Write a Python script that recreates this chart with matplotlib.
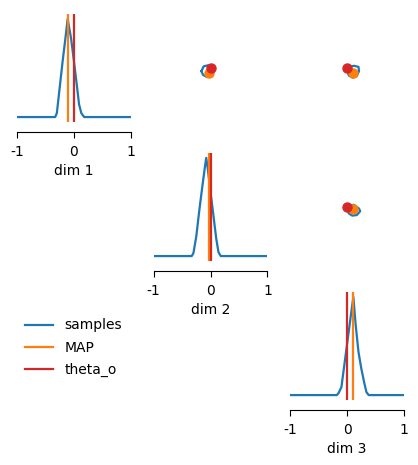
import numpy
import matplotlib
matplotlib.use("Agg")
import matplotlib.pyplot as pyplot

pyplot.rc("font", size=10)

dimLabels = ["dim 1", "dim 2", "dim 3"]
axisLimits = [-1.0, 1.0]
tickValues = [-1, 0, 1]
tickLabels = ["-1", "0", "1"]

mapValues = [-0.10, -0.035, 0.11]
thetaValues = [0.0, 0.0, 0.0]

gridDim1 = [-1.0, -0.33, -0.30, -0.25, -0.20, -0.15, -0.11, -0.05, 0.00, 0.05, 0.09, 0.13, 0.18, 1.0]
densDim1 = [0.0, 0.0, 0.04, 0.30, 0.56, 0.80, 1.00, 0.80, 0.57, 0.33, 0.13, 0.04, 0.0, 0.0]

gridDim2 = [-1.0, -0.33, -0.30, -0.25, -0.20, -0.15, -0.10, -0.075, -0.05, 0.00, 0.05, 0.10, 0.14, 0.18, 1.0]
densDim2 = [0.0, 0.0, 0.03, 0.20, 0.45, 0.68, 0.90, 1.00, 0.90, 0.65, 0.42, 0.18, 0.04, 0.0, 0.0]

gridDim3 = [-1.0, -0.18, -0.15, -0.10, -0.05, 0.00, 0.05, 0.11, 0.15, 0.20, 0.25, 0.30, 0.34, 0.38, 1.0]
densDim3 = [0.0, 0.0, 0.02, 0.08, 0.30, 0.52, 0.74, 1.00, 0.72, 0.44, 0.27, 0.13, 0.03, 0.0, 0.0]

densityGrids = [gridDim1, gridDim2, gridDim3]
densityValues = [densDim1, densDim2, densDim3]

# sample contours in the upper panels (x = column dim, y = row dim)
contour01X = [-0.16, -0.12, -0.04, 0.03, 0.05, 0.02, -0.06, -0.13, -0.16]
contour01Y = [-0.06, 0.03, 0.05, 0.03, -0.06, -0.15, -0.17, -0.13, -0.06]
contour02X = [0.01, 0.04, 0.12, 0.20, 0.21, 0.17, 0.10, 0.03, 0.01]
contour02Y = [-0.07, 0.02, 0.04, 0.02, -0.06, -0.15, -0.18, -0.14, -0.07]
contour12X = [0.01, 0.05, 0.12, 0.21, 0.23, 0.17, 0.09, 0.03, 0.01]
contour12Y = [-0.06, 0.02, 0.04, -0.03, -0.08, -0.15, -0.16, -0.12, -0.06]

contours = {
    (0, 1): (contour01X, contour01Y),
    (0, 2): (contour02X, contour02Y),
    (1, 2): (contour12X, contour12Y),
}

sampleColor = "#1f77b4"
mapColor = "#ff7f0e"
thetaColor = "#d62728"

figure, axesGrid = pyplot.subplots(3, 3, figsize=(4.18, 4.65), dpi=100)
figure.subplots_adjust(left=0.0407, right=0.9665, top=0.970, bottom=0.1398,
                       wspace=0.2, hspace=0.287)

legendHandles = []

for row in range(3):
    for col in range(3):
        axes = axesGrid[row][col]
        if row == col:
            line, = axes.plot(densityGrids[row], densityValues[row],
                              color=sampleColor, linewidth=1.6, label="samples")
            mapLine = axes.axvline(mapValues[row], color=mapColor,
                                   linewidth=1.6, label="MAP")
            thetaLine = axes.axvline(thetaValues[row], color=thetaColor,
                                     linewidth=1.6, label="theta_o")
            if row == 0:
                legendHandles = [line, mapLine, thetaLine]
            axes.set_xlim(axisLimits)
            for side in ["left", "right", "top"]:
                axes.spines[side].set_visible(False)
            axes.spines["bottom"].set_position(("outward", 7.5))
            axes.set_yticks([])
            axes.set_xticks(tickValues)
            axes.set_xticklabels(tickLabels)
            axes.tick_params(axis="x", length=4.5, pad=4.5)
            axes.set_xlabel(dimLabels[row])
        elif col > row:
            contourX, contourY = contours[(row, col)]
            axes.plot(contourX, contourY, color=sampleColor, linewidth=1.6)
            axes.plot(mapValues[col], mapValues[row], "o",
                      color=mapColor, markersize=6.5)
            axes.plot(thetaValues[col], thetaValues[row], "o",
                      color=thetaColor, markersize=6.5)
            axes.set_xlim(axisLimits)
            axes.set_ylim(axisLimits)
            axes.axis("off")
        else:
            axes.axis("off")

figure.legend(handles=legendHandles, loc="upper left",
              bbox_to_anchor=(0.031, 0.342), frameon=False, labelspacing=0.6)

figure.savefig("out.png", dpi=100)
